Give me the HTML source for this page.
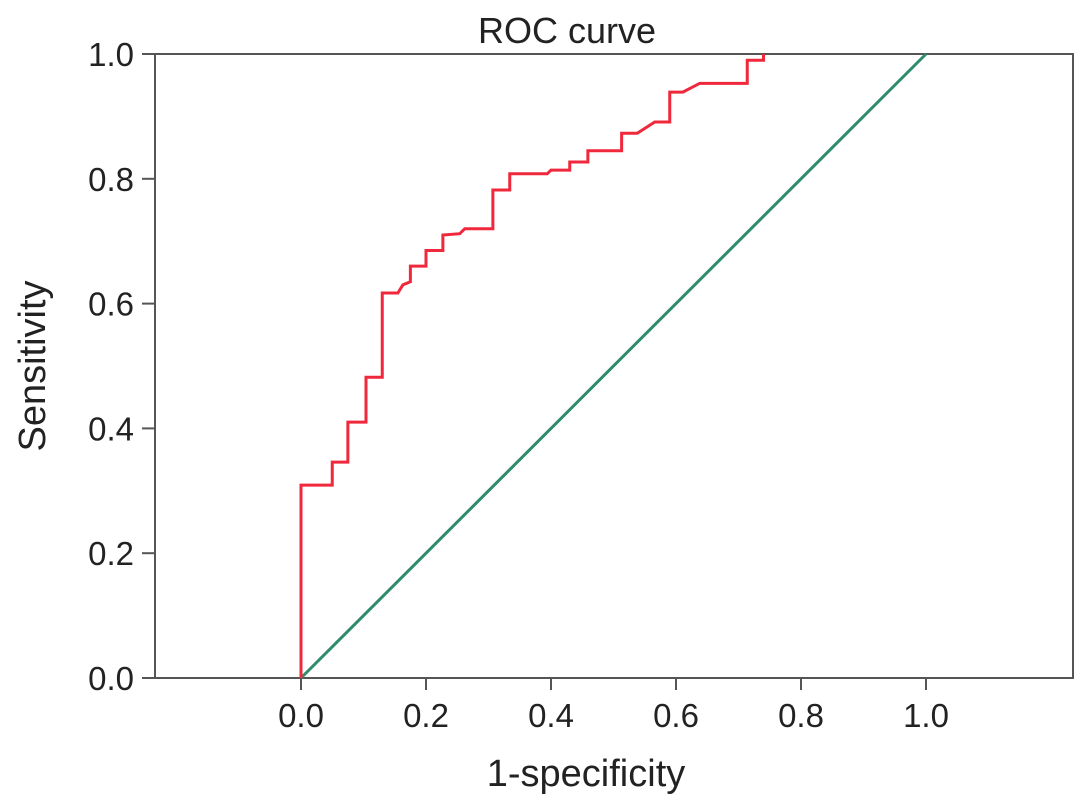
<!DOCTYPE html>
<html><head><meta charset="utf-8"><style>
html,body{margin:0;padding:0;background:#fff;}
svg{display:block;font-family:"Liberation Sans",Arial,sans-serif;}
</style></head><body>
<svg id="chart" width="1087" height="806" viewBox="0 0 1087 806" xmlns="http://www.w3.org/2000/svg">
<rect x="0" y="0" width="1087" height="806" fill="#fff"/>
<text x="567" y="43" font-size="36" text-anchor="middle" fill="#222">ROC curve</text>
<rect x="155" y="54" width="918" height="624" fill="none" stroke="#555" stroke-width="2"/>
<g id="xticks"></g><g id="yticks"></g>
<g id="series"></g>
<text x="586" y="786" font-size="38" text-anchor="middle" fill="#222">1-specificity</text>
<text x="0" y="0" font-size="38" text-anchor="middle" fill="#222" transform="translate(45,366) rotate(-90)">Sensitivity</text>
</svg>
<script>
const xTicks = [0.0, 0.2, 0.4, 0.6, 0.8, 1.0];
const yTicks = [0.0, 0.2, 0.4, 0.6, 0.8, 1.0];
const fpr = [0,0,.05,.05,.075,.075,.104,.104,.13,.13,.155,.163,.175,.175,.2,.2,.227,.227,.254,.262,.307,.307,.334,.334,.394,.4,.43,.43,.459,.459,.513,.513,.538,.566,.59,.59,.611,.638,.714,.714,.74,.74];
const tpr = [0,.309,.309,.346,.346,.41,.41,.482,.482,.617,.617,.63,.635,.66,.66,.685,.685,.71,.712,.72,.72,.782,.782,.808,.808,.814,.814,.827,.827,.845,.845,.873,.873,.891,.891,.939,.939,.953,.953,.99,.99,1];
const refX = [0, 1];
const refY = [0, 1];
const NS = "http://www.w3.org/2000/svg";
const xs = v => 301 + v * 625;
const ys = v => 678 - v * 624;
function mk(tag, attrs, parent){const e=document.createElementNS(NS,tag);for(const k in attrs)e.setAttribute(k,attrs[k]);parent.appendChild(e);return e;}
const gx=document.getElementById('xticks'), gy=document.getElementById('yticks'), gs=document.getElementById('series');
xTicks.forEach(t=>{
  const l=mk('line',{x1:xs(t),x2:xs(t),y1:678,y2:690,stroke:'#555','stroke-width':2},gx);
  
  
  const tx=mk('text',{x:xs(t),y:727,'font-size':33,'text-anchor':'middle',fill:'#222'},gx);
  tx.textContent=t.toFixed(1);
  
  
});
yTicks.forEach(t=>{
  const l=mk('line',{x1:142,x2:155,y1:ys(t),y2:ys(t),stroke:'#555','stroke-width':2},gy);
  
  
  const tx=mk('text',{x:134,y:ys(t)+12,'font-size':33,'text-anchor':'end',fill:'#222'},gy);
  tx.textContent=t.toFixed(1);
  
  
});
const ref=mk('polyline',{points:refX.map((v,i)=>xs(v)+','+ys(refY[i])).join(' '),fill:'none',stroke:'#2e8b6e','stroke-width':3},gs);


const roc=mk('polyline',{points:fpr.map((v,i)=>xs(v)+','+ys(tpr[i])).join(' '),fill:'none',stroke:'#f0283c','stroke-width':3,'stroke-linejoin':'miter'},gs);


</script>
</body></html>
